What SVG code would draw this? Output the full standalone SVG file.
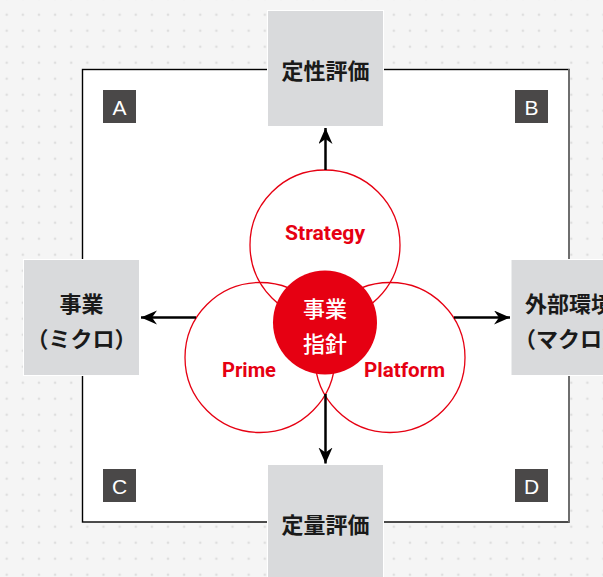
<svg xmlns="http://www.w3.org/2000/svg" width="603" height="577" viewBox="0 0 603 577">
  <style>
    .box { fill: #d9dadc; stroke: #ffffff; stroke-width: 1; }
    .jp { font-family: "Noto Sans CJK JP", "Noto Sans", sans-serif; font-size: 22px; text-anchor: middle; dominant-baseline: central; }
    .boxt { fill: #1a1a1a; font-weight: 700; }
    .ring { fill: none; stroke: #e60012; stroke-width: 1.3; }
    .en { font-family: Roboto, "Liberation Sans", sans-serif; font-weight: 700; font-size: 21px; fill: #e60012; text-anchor: middle; }
    .tag { fill: #4a4848; }
    .tagt { font-family: "Liberation Sans", Arial, sans-serif; font-size: 21px; fill: #ffffff; text-anchor: middle; dominant-baseline: central; }
    .conn { stroke: #000; stroke-width: 2.5; fill: none; marker-end: url(#arr); }
  </style>
  <defs>
    <pattern id="dots" x="6.7" y="14.7" width="16.13" height="16" patternUnits="userSpaceOnUse">
      <rect width="16.13" height="16" fill="#f5f5f5"/>
      <circle cx="0" cy="0" r="1.3" fill="#dedede"/>
      <circle cx="16.13" cy="0" r="1.3" fill="#dedede"/>
      <circle cx="0" cy="16" r="1.3" fill="#dedede"/>
      <circle cx="16.13" cy="16" r="1.3" fill="#dedede"/>
    </pattern>
    <marker id="arr" markerUnits="userSpaceOnUse" markerWidth="18" markerHeight="16" refX="16" refY="7" orient="auto">
      <path d="M0,0 L16,7 L0,14 L5,7 Z" fill="#000"/>
    </marker>
  </defs>

  <rect width="603" height="577" fill="url(#dots)"/>

  <g id="frame">
    <rect x="82.5" y="69.5" width="486.5" height="452.5" fill="#ffffff" stroke="#000" stroke-width="1.4"/>
    <line x1="569" y1="69" x2="569" y2="522.5" stroke="#6e6e6e" stroke-width="2"/>
  </g>

  <g id="tag-a"><rect class="tag" x="103" y="90" width="33" height="33"/><text class="tagt" x="119.5" y="107">A</text></g>
  <g id="tag-b"><rect class="tag" x="515" y="90" width="33" height="33"/><text class="tagt" x="531.5" y="107">B</text></g>
  <g id="tag-c"><rect class="tag" x="103" y="469" width="33" height="33"/><text class="tagt" x="119.5" y="486">C</text></g>
  <g id="tag-d"><rect class="tag" x="515" y="469" width="33" height="33"/><text class="tagt" x="531.5" y="486">D</text></g>

  <g id="node-qualitative">
    <rect class="box" x="267.5" y="10.5" width="116" height="116"/>
    <text class="jp boxt" x="325.5" y="69">定性評価</text>
  </g>
  <g id="node-quantitative">
    <rect class="box" x="267.5" y="464.5" width="116" height="116"/>
    <text class="jp boxt" x="325.5" y="523">定量評価</text>
  </g>
  <g id="node-micro">
    <rect class="box" x="23.5" y="259.5" width="116" height="116"/>
    <text class="jp boxt" x="81.5" y="301.5">事業</text>
    <text class="jp boxt" x="81.5" y="336.5">（ミクロ）</text>
  </g>
  <g id="node-macro">
    <rect class="box" x="511" y="259.5" width="116" height="116"/>
    <text class="jp boxt" x="569" y="301.5">外部環境</text>
    <text class="jp boxt" x="569" y="336.5">（マクロ）</text>
  </g>

  <g id="node-strategy">
    <circle class="ring" cx="325" cy="245" r="75"/>
    <text class="en" x="325" y="240" textLength="80" lengthAdjust="spacingAndGlyphs">Strategy</text>
  </g>
  <g id="node-prime">
    <circle class="ring" cx="260" cy="357.5" r="75"/>
    <text class="en" x="249" y="376.5" textLength="54" lengthAdjust="spacingAndGlyphs">Prime</text>
  </g>
  <g id="node-platform">
    <circle class="ring" cx="390" cy="357.5" r="75"/>
    <text class="en" x="404.5" y="376.5" textLength="81" lengthAdjust="spacingAndGlyphs">Platform</text>
  </g>
  <g id="node-core">
    <circle cx="325" cy="322.5" r="52" fill="#e60012"/>
    <text class="jp" x="325" y="306.5" fill="#ffffff" font-weight="500">事業</text>
    <text class="jp" x="325" y="341.5" fill="#ffffff" font-weight="500">指針</text>
  </g>

  <g id="connectors">
    <line class="conn" x1="325.5" y1="170" x2="325.5" y2="128"/>
    <line class="conn" x1="196" y1="317.5" x2="141" y2="317.5"/>
    <line class="conn" x1="454" y1="317.5" x2="510" y2="317.5"/>
    <line class="conn" x1="325.5" y1="394" x2="325.5" y2="463.5"/>
  </g>
</svg>
